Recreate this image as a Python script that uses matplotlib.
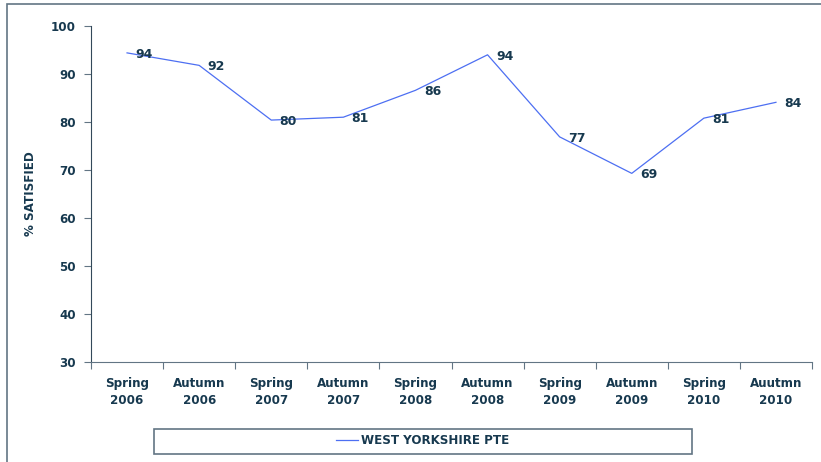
import matplotlib.pyplot as plt
from matplotlib.patches import Rectangle

periods = ['Spring\n2006', 'Autumn\n2006', 'Spring\n2007', 'Autumn\n2007', 'Spring\n2008',
           'Autumn\n2008', 'Spring\n2009', 'Autumn\n2009', 'Spring\n2010', 'Auutmn\n2010']
satisfied = [94.4, 91.8, 80.4, 81.0, 86.6, 94.0, 76.9, 69.3, 80.8, 84.1]
value_labels = [94, 92, 80, 81, 86, 94, 77, 69, 81, 84]
series_name = 'WEST YORKSHIRE PTE'

txt = '#17394f'
line_col = '#4d6ff2'
frame = '#627584'
fs = 8.6

fig = plt.figure(figsize=(8.21, 4.62), dpi=100)
ax = fig.add_axes([91/821, 1 - 362/462, (812 - 91)/821, (362 - 26)/462])

x = [i + 0.5 for i in range(len(periods))]
ax.plot(x, satisfied, color=line_col, lw=0.9, label=series_name)
for xi, yi, lab in zip(x, satisfied, value_labels):
    ax.annotate(str(lab), (xi, yi), xytext=(6, -1), textcoords='offset points',
                ha='left', va='center', fontsize=fs + 0.4, fontweight='bold', color=txt)

ax.set_xlim(0, len(periods))
ax.set_ylim(30, 100)
ax.set_yticks(range(30, 101, 10))
ax.set_xticks(range(len(periods) + 1))
ax.set_xticklabels([])
ax.set_xticks(x, minor=True)
ax.set_xticklabels(periods, minor=True, linespacing=1.35)
ax.tick_params(axis='x', which='minor', length=0, pad=11)
ax.tick_params(axis='x', which='major', length=5, color=frame, direction='out')
ax.tick_params(axis='y', length=5, color=frame, direction='out', pad=6)
for lbl in ax.get_xticklabels(minor=True) + ax.get_yticklabels():
    lbl.set_fontsize(fs)
    lbl.set_fontweight('bold')
    lbl.set_color(txt)
ax.set_ylabel('% SATISFIED', fontsize=fs, fontweight='bold', color=txt, labelpad=10)
ax.spines['top'].set_visible(False)
ax.spines['right'].set_visible(False)
ax.spines['left'].set_color('#33495a')
ax.spines['bottom'].set_color(frame)

# outer border
fig.patches.append(Rectangle((7/821, -0.01), 830/821, 1 - 4/462 + 0.01, transform=fig.transFigure,
                             fill=False, edgecolor=frame, lw=1.2))

# legend box
fig.patches.append(Rectangle((154/821, 1 - 454/462), (692 - 154)/821, 25/462,
                             transform=fig.transFigure, fill=False, edgecolor=frame, lw=1.2))
leg = fig.legend(loc='center', bbox_to_anchor=(423/821, 1 - 441/462), frameon=False,
                 handlelength=1.8, handletextpad=0.3, borderpad=0,
                 prop={'size': fs, 'weight': 'bold'})
for t in leg.get_texts():
    t.set_color(txt)

fig.savefig('out.png', dpi=100)
